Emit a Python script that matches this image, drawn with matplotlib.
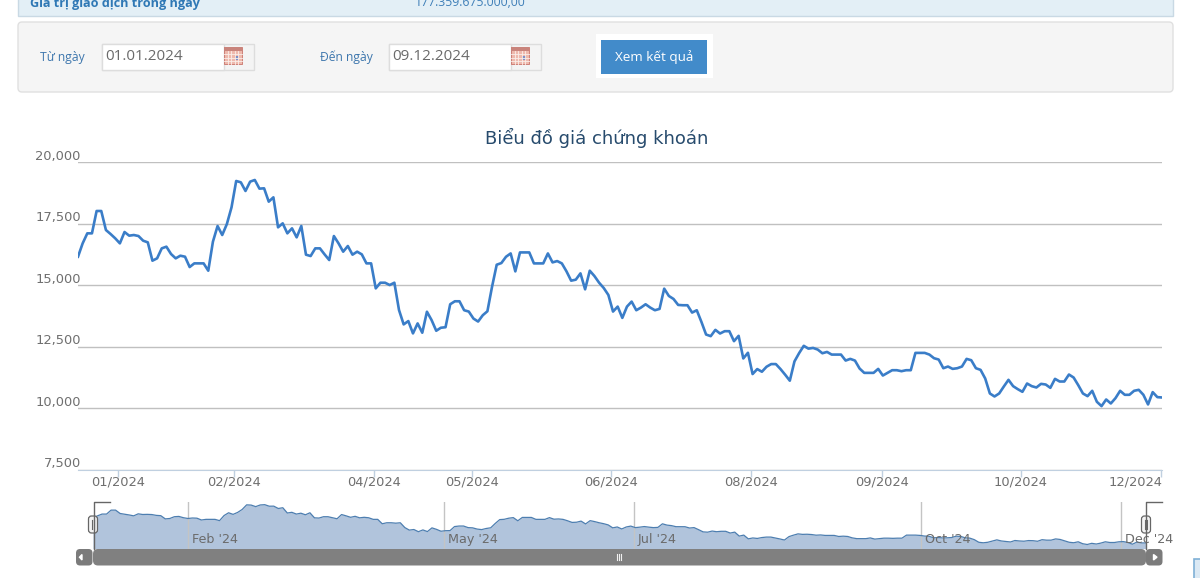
import matplotlib
matplotlib.use("Agg")
import matplotlib.pyplot as plt
from matplotlib.patches import Rectangle, FancyBboxPatch
from matplotlib.ticker import FuncFormatter
from matplotlib.transforms import ScaledTranslation

# closing price, one value per trading session
price = [
    16165, 16707, 17114, 17114, 18022, 18022, 17249, 17087, 16911, 16707,
    17168, 17019, 17046, 17005, 16816, 16748, 16003, 16098, 16504, 16572,
    16274, 16098, 16206, 16165, 15745, 15894, 15894, 15894, 15596, 16775,
    17412, 17046, 17493, 18171, 19241, 19187, 18835, 19214, 19282, 18930,
    18943, 18401, 18577, 17358, 17520, 17114, 17317, 16951, 17412, 16247,
    16192, 16504, 16504, 16260, 16030, 17005, 16707, 16369, 16599, 16247,
    16369, 16260, 15894, 15894, 14878, 15108, 15108, 15014, 15108, 13997,
    13415, 13550, 13049, 13455, 13076, 13930, 13591, 13157, 13279, 13300,
    14233, 14354, 14354, 13990, 13936, 13652, 13531, 13787, 13949, 14948,
    15839, 15907, 16163, 16298, 15569, 16339, 16339, 16339, 15893, 15893,
    15893, 16298, 15934, 15988, 15893, 15569, 15191, 15232, 15488, 14840,
    15596, 15380, 15110, 14894, 14611, 13936, 14138, 13679, 14138, 14341,
    13990, 14098, 14233, 14098, 13990, 14044, 14867, 14570, 14449, 14206,
    14193, 14193, 13895, 13990, 13517, 13004, 12937, 13193, 13045, 13139,
    13139, 12734, 12950, 12032, 12262, 11398, 11600, 11492, 11695, 11803,
    11803, 11600, 11371, 11128, 11911, 12248, 12545, 12430, 12459,
    12392, 12243, 12297, 12189, 12189, 12189, 11946, 12014, 11946, 11622,
    11446, 11446, 11446, 11608, 11338, 11446, 11554, 11554, 11514, 11554,
    11554, 12257, 12257, 12257, 12189, 12041, 11987, 11635, 11703, 11608,
    11635, 11703, 12014, 11960, 11635, 11568, 11217, 10609, 10487, 10609,
    10892, 11163, 10906, 10784, 10676, 11014, 10906, 10852, 11000, 10973,
    10838, 11203, 11095, 11095, 11379, 11257, 10946, 10609, 10500, 10717,
    10271, 10095, 10365, 10203, 10419, 10717, 10555, 10555, 10717, 10757,
    10555, 10163, 10663, 10460, 10446,
]
y_ticks = [7500, 10000, 12500, 15000, 17500, 20000]
month_labels = ["01/2024", "02/2024", "04/2024", "05/2024", "06/2024",
                "08/2024", "09/2024", "10/2024", "12/2024"]
month_pos = [8.6, 33.5, 63.6, 84.7, 114.6, 144.7, 172.8, 202.7, 232.8]
nav_labels = ["Feb '24", "May '24", "Jul '24", "Oct '24", "Dec '24"]
nav_pos = [21, 77.7, 119.7, 183.2, 227.4]

W, H = 1200, 578
LINE = "#3a7dc8"
GREY_TXT = "#6f6f6f"
BLUE_TXT = "#3d76ad"


def axes_px(fig, left, top, right, bottom, **kw):
    return fig.add_axes([left / W, 1 - bottom / H, (right - left) / W, (bottom - top) / H], **kw)


def calendar(ax, x, y):
    ax.add_patch(Rectangle((x, y), 18, 17, fc="#eeb9ad", ec="#c9736a", lw=0.6))
    ax.add_patch(Rectangle((x, y), 18, 4, fc="#c9847c", ec="none"))
    for i in range(1, 5):
        ax.plot([x + i * 3.6] * 2, [y + 4, y + 17], color="#fbeee9", lw=0.6)
    for i in range(1, 4):
        ax.plot([x, x + 18], [y + 4 + i * 3.3] * 2, color="#fbeee9", lw=0.6)
    ax.add_patch(Rectangle((x + 11, y + 9), 3.5, 3.5, fc="#7f8fc4", ec="none"))


fig = plt.figure(figsize=(W / 100, H / 100), dpi=100, facecolor="white")
plt.rcParams["font.family"] = ["DejaVu Sans"]

# page furniture above and below the chart, in pixels
page = fig.add_axes([0, 0, 1, 1], zorder=0)
page.set_xlim(0, W)
page.set_ylim(H, 0)
page.axis("off")

page.add_patch(Rectangle((18, -5), 1155, 20.5, fc="#e3eff6", ec="#c9d9e4", lw=1))
page.text(30, 3, "Giá trị giao dịch trong ngày", fontsize=9.1, fontweight="bold",
          color="#2f78b5", family="Open Sans", va="center")
page.text(415, 3, "177.359.675.000,00", fontsize=8.8, color="#3f7fb8",
          family="Open Sans", va="center")

page.add_patch(FancyBboxPatch((18, 22), 1155, 70, boxstyle="round,pad=0,rounding_size=4",
                              fc="#f5f5f5", ec="#e0e0e0", lw=1))
page.text(40, 57, "Từ ngày", fontsize=8.7, color=BLUE_TXT, family="Open Sans", va="center")
page.text(320, 57, "Đến ngày", fontsize=8.7, color=BLUE_TXT, family="Open Sans", va="center")
for x0, txt in [(101, "01.01.2024"), (388, "09.12.2024")]:
    page.add_patch(Rectangle((x0 + 0.5, 43.5), 152, 26, fc="#f4f4f4", ec="#dddddd", lw=1))
    page.add_patch(Rectangle((x0 + 0.5, 43.5), 122, 26, fc="white", ec="#dddddd", lw=1))
    page.text(x0 + 4, 57, txt, fontsize=11, color="#6a6a6a", family="Open Sans", va="center")
    calendar(page, x0 + 123, 47)
page.add_patch(Rectangle((596, 34), 117, 44, fc="white", ec="none"))
page.add_patch(Rectangle((601, 40), 106, 34, fc="#428bca", ec="none"))
page.text(654, 57, "Xem kết quả", fontsize=9.7, color="white", family="Open Sans",
          ha="center", va="center")

# main price chart
ax = axes_px(fig, 78, 162.3, 1162, 470, zorder=2)
ax.patch.set_alpha(0)
days = list(range(len(price)))
ax.plot(days, price, color=LINE, lw=1.9, solid_joinstyle="round", zorder=3)
ax.set_xlim(0, len(price) - 1)
ax.set_ylim(7500, 20000)
ax.set_yticks(y_ticks)
ax.yaxis.set_major_formatter(FuncFormatter(lambda v, p: f"{int(v):,}"))
ax.tick_params(axis="y", length=0, labelleft=False)
ax.grid(axis="y", color="#c0c0c0", lw=1)
ax.set_axisbelow(True)
for name in ["top", "left", "right"]:
    ax.spines[name].set_visible(False)
ax.spines["bottom"].set_color("#c0d0e0")
ax.set_xticks(month_pos)
ax.set_xticklabels(month_labels, fontsize=9.4, color=GREY_TXT)
ax.tick_params(axis="x", length=5, width=1, color="#c0d0e0", pad=-1.2)
last = ax.get_xticklabels()[-1]
last.set_ha("right")
last.set_transform(last.get_transform() + ScaledTranslation(1 / 100, 0, fig.dpi_scale_trans))
for v in y_ticks:
    ax.annotate(f"{v:,}", (0, v), xycoords=ax.get_yaxis_transform(), xytext=(2, -0.3),
                textcoords="offset points", ha="right", va="bottom", fontsize=9.4, color=GREY_TXT)
fig.text(596.5 / W, 1 - 138 / H, "Biểu đồ giá chứng khoán", fontsize=13, color="#274b6d",
         ha="center", va="center")

# navigator with the same series
nav = axes_px(fig, 93, 502, 1146, 548.5, zorder=2)
nav.patch.set_alpha(0)
nav.fill_between(days, price, 9170, color="#b1c4dc", lw=0)
nav.plot(days, price, color="#4d7eb0", lw=0.9)
nav.set_xlim(0, len(price) - 1)
nav.set_ylim(9170, 19900)
nav.axis("off")
for p, lab in zip(nav_pos, nav_labels):
    nav.axvline(p, color="#c4c4c4", lw=1, zorder=1)
    nav.annotate(lab, (p, 0), xycoords=nav.get_xaxis_transform(), xytext=(3, 4),
                 textcoords="offset points", fontsize=9.2, color="#6b6b6b")

# scrollbar and handles, on top of the navigator
top = fig.add_axes([0, 0, 1, 1], zorder=3)
top.set_xlim(0, W)
top.set_ylim(H, 0)
top.axis("off")
top.add_patch(FancyBboxPatch((93, 549), 1053, 16.5, boxstyle="round,pad=0,rounding_size=5",
                             fc="#808080", ec="none"))
for x0 in (76, 1146):
    top.add_patch(FancyBboxPatch((x0, 549), 16.5, 16.5, boxstyle="round,pad=0,rounding_size=4",
                                 fc="#7b7b7b", ec="none"))
top.fill([82, 82, 79.5], [554.5, 560, 557.2], color="white")
top.fill([1153.5, 1153.5, 1157], [554.5, 560, 557.2], color="white")
for dx in (-2, 0, 2):
    top.plot([619 + dx] * 2, [554, 560], color="#f0f0f0", lw=0.8)
top.plot([110, 93.5, 93.5], [502, 502, 549], color="#666666", lw=1)
top.plot([1162, 1146, 1146], [502, 502, 549], color="#666666", lw=1)
for xc in (93, 1146):
    top.add_patch(FancyBboxPatch((xc - 4.5, 516), 9, 17, boxstyle="round,pad=0,rounding_size=3",
                                 fc="#f4f4f4", ec="#666666", lw=0.9))
    for dx in (-1.3, 1.3):
        top.plot([xc + dx] * 2, [520, 529], color="#666666", lw=0.8)
top.add_patch(Rectangle((1194, 559), 7, 20, fc="#dbe9f4", ec="#7fb0d6", lw=1.2))

fig.savefig("out.png", dpi=100)
